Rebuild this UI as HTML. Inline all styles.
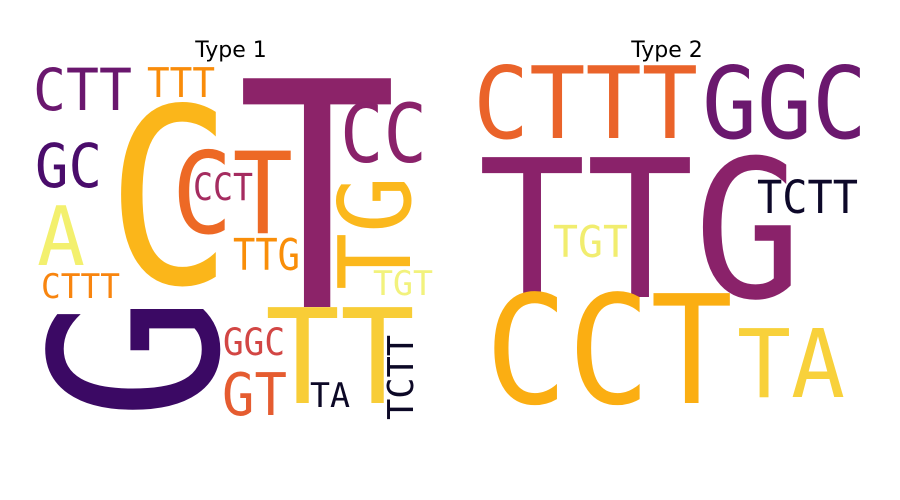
<!DOCTYPE html>
<html><head><meta charset="utf-8"><style>
html,body{margin:0;padding:0;background:#fff;}
svg{display:block;}
text{font-family:"DejaVu Sans Mono","Liberation Mono",monospace;}
text.title{font-family:"DejaVu Sans","Liberation Sans",sans-serif;}
</style></head><body>
<svg id="chart" width="900" height="500" viewBox="0 0 900 500" xmlns="http://www.w3.org/2000/svg">
<text class="title" x="231" y="57" font-size="22" text-anchor="middle" fill="#000">Type 1</text>
<text class="title" x="667" y="57" font-size="22" text-anchor="middle" fill="#000">Type 2</text>
<g id="cloud1"></g>
<g id="cloud2"></g>
</svg>
<script>
// Panel 1 words
const words1 = ["CTT","TTT","C","T","CC","GC","CT","CCT","A","CTTT","TTG","TG","TGT","G","TT","GGC","GT","TA","TCTT"];
const colors1 = ["#6a176e","#f98c0a","#fbb61a","#8c2369","#8a226a","#4a0c6b","#ed6925","#a52c60","#f3f06e","#f8850f","#f98e09","#fbb81d","#f2f27d","#3b0964","#f8cd37","#d24644","#e55c30","#0c0826","#0c0826"];
// box: left, top, right, bottom (px) and rotation flag
const boxL1 = [33,147,107,237,340,35,172,193,37,41,233,337,373,48,265,223,222,310,387];
const boxT1 = [68,67,105,78,103,143,150,173,205,273,238,176,270,296,307,328,372,382,335];
const boxR1 = [132,215,232,397,427,102,293,253,85,120,300,410,433,217,415,285,287,350,413];
const boxB1 = [110,97,283,307,162,187,233,200,265,298,270,290,295,420,403,355,415,407,420];
const rot1 = [0,0,0,0,0,0,0,0,0,0,0,1,0,1,0,0,0,0,1];
// Panel 2 words
const words2 = ["CTTT","GGC","TTG","TCTT","TGT","CCT","TA"];
const colors2 = ["#ea632a","#6b186e","#8a226a","#0d0829","#f1ed6f","#fbae12","#f8d13b"];
const boxL2 = [473,702,478,757,553,485,737];
const boxT2 = [65,65,157,180,225,293,328];
const boxR2 = [698,867,802,858,628,733,845];
const boxB2 = [138,138,297,213,257,403,397];
const rot2 = [0,0,0,0,0,0,0];

const NS = "http://www.w3.org/2000/svg";
const CAP = 0.73;
function draw(gid, words, colors, L, T, R, B, rot) {
  const g = document.getElementById(gid);
  words.forEach((w, i) => {
    const t = document.createElementNS(NS, "text");
    
    
    const wdt = R[i] - L[i], hgt = B[i] - T[i];
    let fs, len;
    if (rot[i]) {
      fs = wdt / CAP; len = hgt;
      t.setAttribute("x", 0); t.setAttribute("y", 0);
      t.setAttribute("transform", "translate(" + R[i] + "," + B[i] + ") rotate(-90)");
    } else {
      fs = hgt / CAP; len = wdt;
      t.setAttribute("x", L[i]); t.setAttribute("y", B[i]);
    }
    t.setAttribute("font-size", fs.toFixed(1));
    t.setAttribute("textLength", len);
    t.setAttribute("lengthAdjust", "spacingAndGlyphs");
    t.setAttribute("fill", colors[i]);
    t.textContent = w;
    g.appendChild(t);
  });
}
draw("cloud1", words1, colors1, boxL1, boxT1, boxR1, boxB1, rot1);
draw("cloud2", words2, colors2, boxL2, boxT2, boxR2, boxB2, rot2);
</script>
</body></html>
